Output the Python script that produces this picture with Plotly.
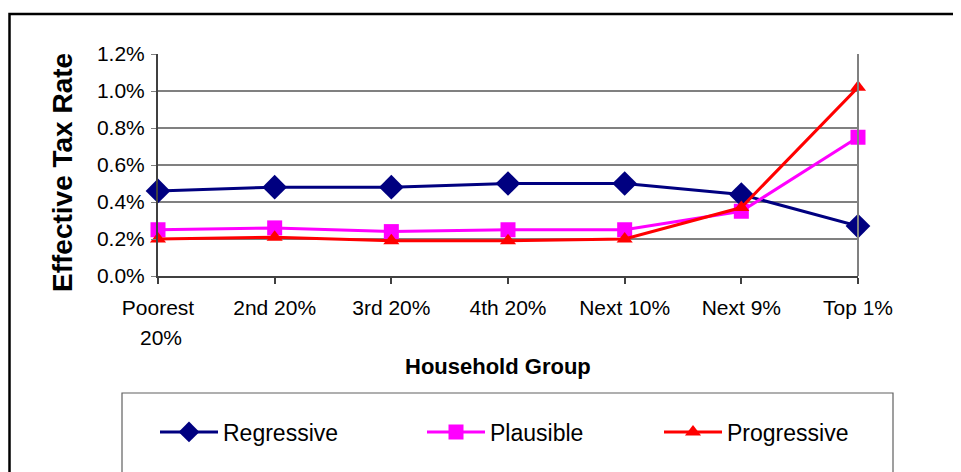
import plotly.graph_objects as go

groups = ["Poorest", "2nd 20%", "3rd 20%", "4th 20%", "Next 10%", "Next 9%", "Top 1%"]
regressive = [0.0046, 0.0048, 0.0048, 0.0050, 0.0050, 0.0044, 0.0027]
plausible = [0.0025, 0.0026, 0.0024, 0.0025, 0.0025, 0.0035, 0.0075]
progressive = [0.0020, 0.0021, 0.0019, 0.0019, 0.0020, 0.0037, 0.0102]
yticks = [0, 0.002, 0.004, 0.006, 0.008, 0.010, 0.012]

font = "Liberation Sans, Arial, sans-serif"

# pixel -> paper helpers for the fixed plot area (screen x 158..858, y 54..276)
def px(x):
    return (x - 158) / 700

def py(y):
    return (276 - y) / 222

fig = go.Figure()
fig.add_trace(go.Scatter(
    x=list(range(7)), y=regressive, name="Regressive", mode="lines+markers",
    line=dict(color="#000080", width=3),
    marker=dict(symbol="diamond", size=19, color="#000080"),
    cliponaxis=False, legend="legend",
))
fig.add_trace(go.Scatter(
    x=list(range(7)), y=plausible, name="Plausible", mode="lines+markers",
    line=dict(color="#FF00FF", width=3),
    marker=dict(symbol="square", size=15, color="#FF00FF"),
    cliponaxis=False, legend="legend2",
))
fig.add_trace(go.Scatter(
    x=list(range(7)), y=progressive, name="Progressive", mode="lines+markers",
    line=dict(color="#FF0000", width=3),
    marker=dict(symbol="triangle-up", size=14, color="#FF0000"),
    cliponaxis=False, legend="legend3",
))

leg = dict(yanchor="middle", xanchor="left", y=py(432),
           font=dict(size=23, family=font), bgcolor="rgba(0,0,0,0)", itemwidth=58)

# page body adds an 8px offset, so the figure is 8px smaller than the window
fig.update_layout(
    width=953, height=464,
    margin=dict(l=150, r=103, t=46, b=196, autoexpand=False),
    paper_bgcolor="white", plot_bgcolor="white",
    font=dict(family=font, size=21, color="black"),
    showlegend=True,
    legend=dict(leg, x=px(155)),
    legend2=dict(leg, x=px(422)),
    legend3=dict(leg, x=px(659)),
    xaxis=dict(
        range=[0, 6], tickvals=list(range(7)), ticktext=groups,
        showgrid=False, zeroline=False,
        showline=True, linecolor="#404040", linewidth=2,
        ticks="outside", ticklen=6, tickcolor="#404040", tickwidth=1.5,
        ticklabelstandoff=6,
    ),
    yaxis=dict(
        range=[0, 0.012], tickvals=yticks, tickformat=".1%",
        showgrid=True, gridcolor="#808080", gridwidth=2,
        zeroline=False,
        showline=True, linecolor="#404040", linewidth=2,
        ticks="outside", ticklen=5, tickcolor="#808080",
        ticklabelstandoff=2,
    ),
)

# outer chart border, right plot border and legend box
fig.add_shape(type="rect", xref="paper", yref="paper",
              x0=px(9.5), x1=px(965), y0=py(480), y1=py(14),
              line=dict(color="black", width=2.5), layer="below")
fig.add_shape(type="line", xref="paper", yref="paper", x0=1, x1=1, y0=0, y1=1,
              line=dict(color="#808080", width=2))
fig.add_shape(type="rect", xref="paper", yref="paper",
              x0=px(122), x1=px(893), y0=py(480), y1=py(393),
              line=dict(color="#606060", width=1.2), layer="below")

fig.add_annotation(x=px(62), y=py(173), xref="paper", yref="paper",
                   xanchor="center", yanchor="middle",
                   text="<b>Effective Tax Rate</b>", textangle=-90, showarrow=False,
                   font=dict(size=28, family=font))
fig.add_annotation(x=0, y=py(337), xref="x", yref="paper",
                   xanchor="center", yanchor="middle",
                   text="20%", showarrow=False, xshift=3,
                   font=dict(size=21, family=font))
fig.add_annotation(x=px(498), y=py(366), xref="paper", yref="paper",
                   xanchor="center", yanchor="middle",
                   text="<b>Household Group</b>", showarrow=False,
                   font=dict(size=22, family=font))

fig.write_html("out.html")
